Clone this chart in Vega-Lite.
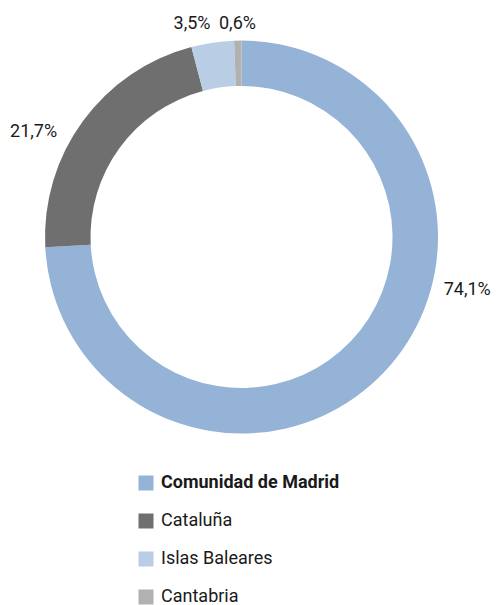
{
  "$schema": "https://vega.github.io/schema/vega-lite/v6.json",
  "width": 483,
  "height": 474,
  "autosize": "none",
  "padding": {"left": 0, "top": 0, "right": 15, "bottom": 131},
  "background": "white",
  "config": {"view": {"stroke": null}},
  "data": {"values": [
    {"region": "Comunidad de Madrid", "pct": 74.1, "label": "74,1%", "idx": 1},
    {"region": "Cataluña", "pct": 21.7, "label": "21,7%", "idx": 2},
    {"region": "Islas Baleares", "pct": 3.5, "label": "3,5%", "idx": 3},
    {"region": "Cantabria", "pct": 0.6, "label": "0,6%", "idx": 4}
  ]},
  "encoding": {
    "theta": {"field": "pct", "type": "quantitative", "stack": true},
    "order": {"field": "idx", "type": "quantitative"}
  },
  "layer": [
    {
      "mark": {"type": "arc", "innerRadius": 151, "outerRadius": 196.5},
      "encoding": {
        "color": {
          "field": "region",
          "type": "nominal",
          "scale": {
            "domain": ["Comunidad de Madrid", "Cataluña", "Islas Baleares", "Cantabria"],
            "range": ["#95b3d7", "#6f6f6f", "#b9cde5", "#b1b1b1"]
          },
          "legend": {
            "orient": "none",
            "legendX": 137,
            "legendY": 474,
            "direction": "vertical",
            "title": null,
            "symbolType": "square",
            "symbolSize": 225,
            "symbolStrokeWidth": 0,
            "labelFont": "Roboto, sans-serif",
            "labelFontSize": 18,
            "labelColor": "#1a1a1a",
            "labelOffset": 6,
            "rowPadding": 20,
            "labelLimit": 300,
            "encode": {
              "labels": {
                "update": {
                  "fontWeight": {"signal": "datum.label == 'Comunidad de Madrid' ? 'bold' : 'normal'"}
                }
              }
            }
          }
        }
      }
    },
    {
      "mark": {"type": "text", "radius": 232, "thetaOffset": -0.527, "font": "Roboto, sans-serif", "fontSize": 18, "color": "#1a1a1a", "align": "center", "baseline": "middle"},
      "encoding": {"text": {"condition": {"test": "datum.region == 'Comunidad de Madrid'", "field": "label"}, "value": ""}}
    },
    {
      "mark": {"type": "text", "radius": 233, "thetaOffset": -0.162, "font": "Roboto, sans-serif", "fontSize": 18, "color": "#1a1a1a", "align": "center", "baseline": "middle"},
      "encoding": {"text": {"condition": {"test": "datum.region == 'Cataluña'", "field": "label"}, "value": ""}}
    },
    {
      "mark": {"type": "text", "radius": 219, "thetaOffset": -0.08, "font": "Roboto, sans-serif", "fontSize": 18, "color": "#1a1a1a", "align": "center", "baseline": "middle"},
      "encoding": {"text": {"condition": {"test": "datum.region == 'Islas Baleares'", "field": "label"}, "value": ""}}
    },
    {
      "mark": {"type": "text", "radius": 213, "thetaOffset": 0, "font": "Roboto, sans-serif", "fontSize": 18, "color": "#1a1a1a", "align": "center", "baseline": "middle"},
      "encoding": {"text": {"condition": {"test": "datum.region == 'Cantabria'", "field": "label"}, "value": ""}}
    }
  ]
}
